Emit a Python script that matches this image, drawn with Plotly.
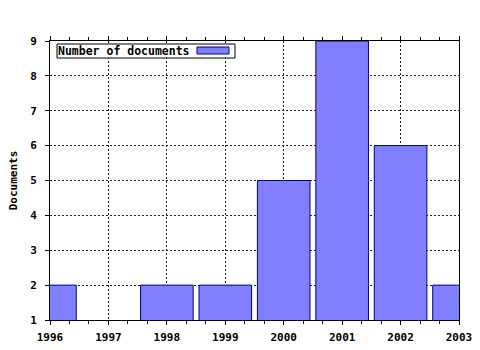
import plotly.graph_objects as go

years = [1996, 1997, 1998, 1999, 2000, 2001, 2002, 2003]
documents = [2, 0, 2, 2, 5, 9, 6, 2]
series_name = "Number of documents"
y_title = "Documents"

FONT = dict(family="DejaVu Sans Mono", size=11, color="black")
LFONT = dict(family="DejaVu Sans Mono", size=11.5, color="black")
BOLD = "<b>%s</b>"
GRID_DASH = "2px,2px"

fig = go.Figure()
fig.add_trace(go.Bar(
    x=years, y=documents, name=series_name, width=0.9,
    marker=dict(color="#8080ff", line=dict(color="#000080", width=1)),
    showlegend=False,
))
# invisible trace to drive the mirrored top axis
fig.add_trace(go.Scatter(x=[years[0], years[-1]], y=[2, 2],
                         xaxis="x2", mode="none", showlegend=False, hoverinfo="skip"))

fig.update_layout(
    width=480, height=350,
    margin=dict(l=50, r=21, t=41, b=30),
    paper_bgcolor="white", plot_bgcolor="white",
    font=FONT,
    xaxis=dict(
        range=[1996, 2003], tickmode="array", tickvals=years,
        ticktext=[BOLD % y for y in years],
        showgrid=True, gridcolor="#202020", gridwidth=1, griddash=GRID_DASH,
        showline=True, linecolor="black", linewidth=1,
        ticks="outside", ticklen=4, tickcolor="black",
        minor=dict(dtick=1/3, tick0=1996, ticks="outside", ticklen=3, tickcolor="black", showgrid=False),
        zeroline=False, tickfont=FONT, ticklabelstandoff=3, automargin=False,
    ),
    xaxis2=dict(
        range=[1996, 2003], overlaying="x", side="top", dtick=1, tick0=1996,
        showticklabels=False, showgrid=False, showline=True, linecolor="black", linewidth=1,
        ticks="outside", ticklen=4, tickcolor="black",
        minor=dict(dtick=1/3, tick0=1996, ticks="outside", ticklen=3, tickcolor="black", showgrid=False),
        zeroline=False, automargin=False,
    ),
    yaxis=dict(
        range=[1, 9], tickvals=list(range(1, 10)), ticktext=[BOLD % v for v in range(1, 10)],
        showgrid=True, gridcolor="#202020", gridwidth=1, griddash=GRID_DASH,
        showline=True, linecolor="black", linewidth=1, mirror=True,
        ticks="outside", ticklen=4, tickcolor="black",
        zeroline=False, tickfont=FONT, ticklabelstandoff=6, automargin=False,
        title=dict(text=BOLD % y_title, font=FONT, standoff=10),
    ),
    bargap=0.1,
)

# legend box (swatch on the right, as in the original)
fig.add_shape(type="rect", xref="paper", yref="paper", layer="above",
              x0=7/409, x1=185/409, y0=1 - 17/279, y1=1 - 3/279,
              fillcolor="white", line=dict(color="black", width=1))
fig.add_shape(type="rect", xref="paper", yref="paper", layer="above",
              x0=147/409, x1=179/409, y0=1 - 13/279, y1=1 - 6/279,
              fillcolor="#8080ff", line=dict(color="#000080", width=1))
fig.add_annotation(
    xref="paper", yref="paper", x=6/409, y=1 - 10/279, xanchor="left", yanchor="middle",
    text=BOLD % series_name, showarrow=False, align="left", font=LFONT,
)

fig.write_html("out.html")
